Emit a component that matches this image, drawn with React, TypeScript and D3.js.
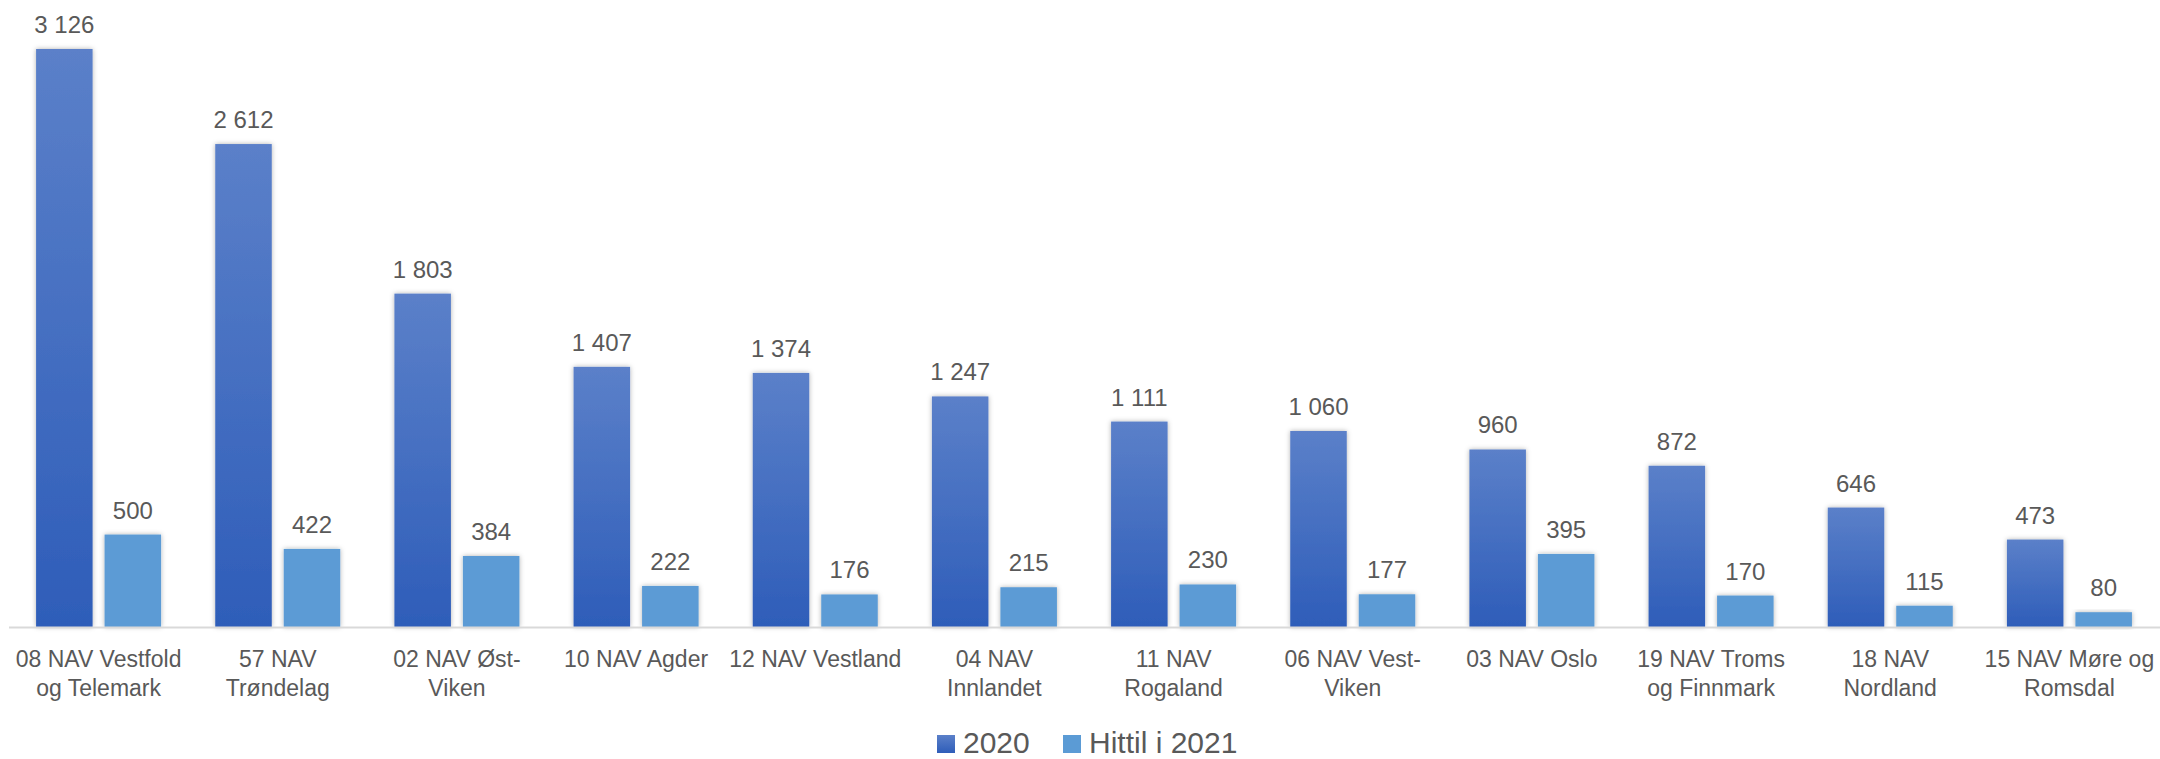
import React from 'react';
import * as d3 from 'd3';

// Chart data
const categories = [
  '08 NAV Vestfold og Telemark',
  '57 NAV Trøndelag',
  '02 NAV Øst-Viken',
  '10 NAV Agder',
  '12 NAV Vestland',
  '04 NAV Innlandet',
  '11 NAV Rogaland',
  '06 NAV Vest-Viken',
  '03 NAV Oslo',
  '19 NAV Troms og Finnmark',
  '18 NAV Nordland',
  '15 NAV Møre og Romsdal',
];

// wrapped tick labels, as they appear under each group
const tickLabels: string[][] = [
  ['08 NAV Vestfold', 'og Telemark'],
  ['57 NAV', 'Trøndelag'],
  ['02 NAV Øst-', 'Viken'],
  ['10 NAV Agder'],
  ['12 NAV Vestland'],
  ['04 NAV', 'Innlandet'],
  ['11 NAV', 'Rogaland'],
  ['06 NAV Vest-', 'Viken'],
  ['03 NAV Oslo'],
  ['19 NAV Troms', 'og Finnmark'],
  ['18 NAV', 'Nordland'],
  ['15 NAV Møre og', 'Romsdal'],
];

const seriesNames = ['2020', 'Hittil i 2021'];
const values2020 = [3126, 2612, 1803, 1407, 1374, 1247, 1111, 1060, 960, 872, 646, 473];
const values2021 = [500, 422, 384, 222, 176, 215, 230, 177, 395, 170, 115, 80];

const W = 2160;
const H = 759;
const textColor = '#595959';
const font = '"Liberation Sans", Arial, sans-serif';

const fmt = (v: number) => d3.format(',')(v).replace(/,/g, ' ');

export default function App() {
  const baseline = 627;

  const x = d3.scaleBand<string>().domain(categories).range([9, 2159]).paddingInner(0).paddingOuter(0);
  const bw = x.bandwidth();
  const groupW = 125;
  const xs = d3
    .scaleBand<string>()
    .domain(seriesNames)
    .range([(bw - groupW) / 2, (bw + groupW) / 2])
    .paddingInner(0.175);

  const y = d3.scaleLinear().domain([0, 3126]).range([baseline, 49]);

  const series = [
    { name: seriesNames[0], values: values2020, fill: 'url(#gradDark)' },
    { name: seriesNames[1], values: values2021, fill: '#5b9bd5' },
  ];

  // legend positions
  const legendY = 735;
  const legendItems = [
    { x: 937, fill: 'url(#gradDark)', label: seriesNames[0] },
    { x: 1063, fill: '#5b9bd5', label: seriesNames[1] },
  ];

  return (
    <svg
      width={W}
      height={H}
      style={{ position: 'fixed', left: 0, top: 0, background: '#fff' }}
      fontFamily={font}
    >
      <defs>
        <linearGradient id="gradDark" x1="0" y1="0" x2="0" y2="1">
          <stop offset="0%" stopColor="#5b80c9" />
          <stop offset="100%" stopColor="#2e5db9" />
        </linearGradient>
        <filter id="shadow" x="-20%" y="-20%" width="140%" height="140%">
          <feDropShadow dx="0" dy="0" stdDeviation="2.5" floodColor="#000" floodOpacity="0.3" />
        </filter>
      </defs>

      {/* bars */}
      {series.map((s) => (
        <g key={s.name}>
          {s.values.map((v, i) => {
            const bx = (x(categories[i]) || 0) + (xs(s.name) || 0);
            return (
              <rect
                key={i}
                x={bx}
                y={y(v)}
                width={xs.bandwidth()}
                height={baseline - y(v)}
                fill={s.fill}
                filter="url(#shadow)"
              />
            );
          })}
        </g>
      ))}

      {/* axis line */}
      <line x1={9} x2={W} y1={baseline + 0.5} y2={baseline + 0.5} stroke="#d9d9d9" strokeWidth={2} />

      {/* value labels */}
      {series.map((s) => (
        <g key={s.name + '-labels'}>
          {s.values.map((v, i) => {
            const cx = (x(categories[i]) || 0) + (xs(s.name) || 0) + xs.bandwidth() / 2;
            return (
              <text
                key={i}
                x={cx}
                y={y(v) - 16}
                textAnchor="middle"
                fontSize={24}
                fill={textColor}
              >
                {fmt(v)}
              </text>
            );
          })}
        </g>
      ))}

      {/* category labels */}
      {tickLabels.map((lines, i) => {
        const cx = (x(categories[i]) || 0) + bw / 2;
        return (
          <text key={i} x={cx} y={667} textAnchor="middle" fontSize={23} fill={textColor}>
            {lines.map((ln, j) => (
              <tspan key={j} x={cx} dy={j === 0 ? 0 : 29}>
                {ln}
              </tspan>
            ))}
          </text>
        );
      })}

      {/* legend */}
      {legendItems.map((it) => (
        <g key={it.label}>
          <rect x={it.x} y={legendY} width={18} height={18} fill={it.fill} />
          <text x={it.x + 26} y={legendY + 18} fontSize={30} fill={textColor}>
            {it.label}
          </text>
        </g>
      ))}
    </svg>
  );
}
